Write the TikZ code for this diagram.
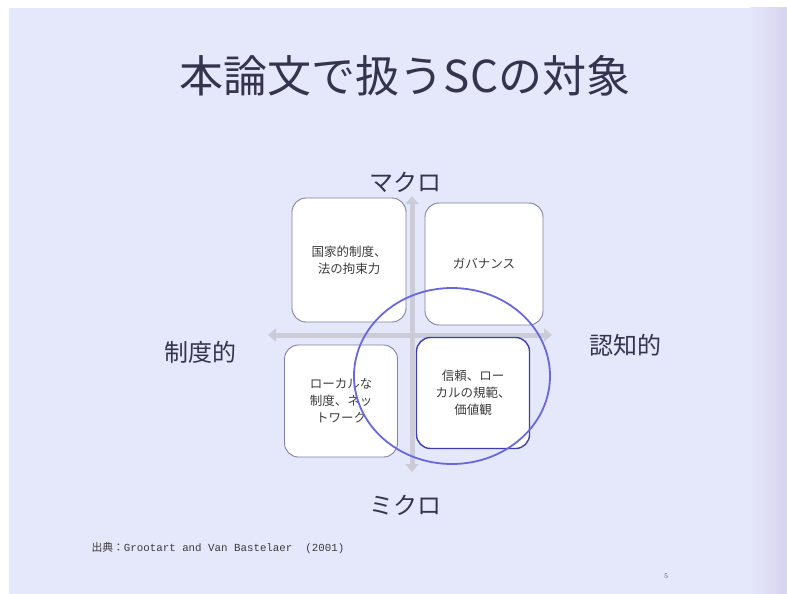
\documentclass[tikz,border=0pt]{standalone}
\usepackage{fontspec}
\newfontfamily\jp{Noto Sans CJK JP}
\setmonofont{Liberation Mono}
\usetikzlibrary{arrows.meta,shapes.geometric}
\definecolor{bgc}{RGB}{229,231,251}
\definecolor{edgec}{RGB}{214,212,238}
\definecolor{titlec}{RGB}{52,52,78}
\definecolor{boxline}{RGB}{128,128,165}
\definecolor{ringc}{RGB}{104,104,222}
\definecolor{brline}{RGB}{62,62,178}
\definecolor{axisc}{RGB}{204,204,216}
\definecolor{txtc}{RGB}{60,60,60}
\begin{document}
\begin{tikzpicture}[x=1pt,y=-1pt,
  quad/.style={draw=boxline, line width=0.9pt, fill=white, rounded corners=14pt,
    minimum width=112pt, minimum height=120pt, inner sep=0pt, align=center,
    font=\jp\fontsize{12.5}{17}\selectfont, text=txtc},
  axislabel/.style={font=\jp\fontsize{24}{28}\selectfont, text=titlec},
  axisline/.style={draw=axisc, line width=5pt, {Triangle[width=13pt,length=8pt]}-{Triangle[width=13pt,length=8pt]}}]
\useasboundingbox (0,0) rectangle (787,594);
\fill[white] (0,0) rectangle (787,594);
\fill[bgc] (9,8) rectangle (787,594);
\shade[left color=bgc, right color=edgec] (750,8) rectangle (787,594);

\node[font=\jp\fontsize{44}{50}\selectfont, text=titlec] (title) at (405,76) {本論文で扱うSCの対象};

\coordinate (hl) at (268,335);
\coordinate (hr) at (552,335);
\coordinate (vt) at (412,196);
\coordinate (vb) at (412,472);
\draw[axisline] (hl) -- (hr);
\draw[axisline] (vt) -- (vb);

\node[axislabel] (macro) at (405,182) {マクロ};
\node[axislabel] (micro) at (405,505) {ミクロ};
\node[axislabel] (inst) at (200,352) {制度的};
\node[axislabel] (cogn) at (625,345) {認知的};

\node[quad, minimum width=114pt, minimum height=124pt] (tl) at (349,260) {国家的制度、\\法の拘束力};
\node[quad, minimum width=118pt, minimum height=122pt] (tr) at (484,264) {ガバナンス};
\node[quad, minimum width=113pt, minimum height=112pt] (bl) at (341,401) {ローカルな\\制度、ネッ\\トワーク};
\node[quad, draw=brline, line width=1.4pt, minimum width=113pt, minimum height=111pt] (br) at (473,393) {信頼、ロー\\カルの規範、\\価値観};

\node[ellipse, draw=ringc, line width=1.8pt, minimum width=196pt, minimum height=176pt] (ring) at (452,376) {};

\node[anchor=west, font=\fontsize{10.8}{12}\selectfont, text=txtc] (src) at (88,548) {{\jp 出典：}\ttfamily Grootart and Van Bastelaer\ \ (2001)};
\node[font=\fontsize{7}{8}\selectfont, text=txtc] (page) at (666,576) {5};
\end{tikzpicture}
\end{document}
